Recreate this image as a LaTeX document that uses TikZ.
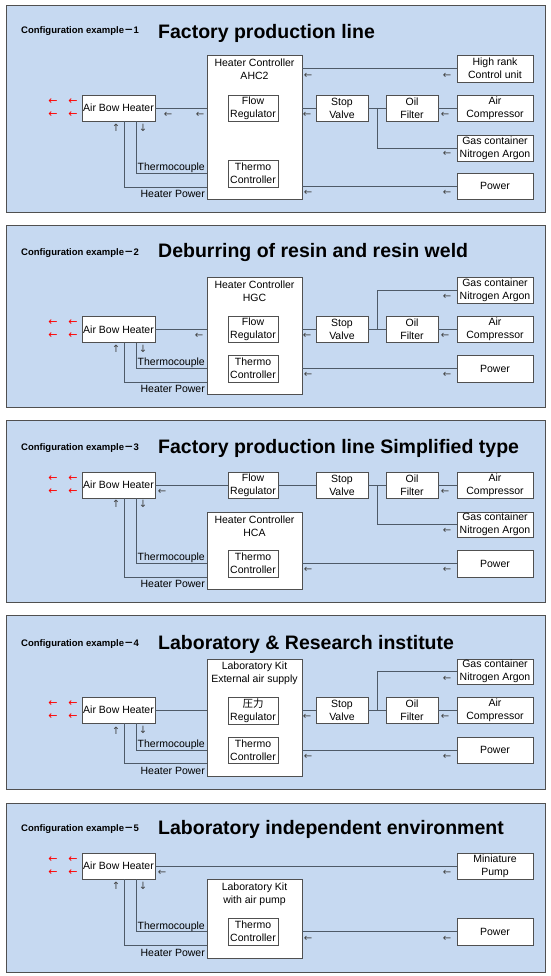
\documentclass[tikz,border=0pt]{standalone}
\usepackage{fontspec}
\setmainfont{Liberation Sans}
\newfontfamily\cjk{Noto Sans CJK JP}
\newfontfamily\arrfont{DejaVu Sans}
\definecolor{panelfill}{HTML}{C6D9F1}
\definecolor{panelline}{HTML}{505050}
\definecolor{boxline}{HTML}{505050}
\definecolor{connline}{HTML}{4E5A68}
\definecolor{arrgray}{HTML}{404040}
\tikzset{
  panelbox/.style={draw=panelline, fill=panelfill, line width=0.9pt},
  box/.style={draw=boxline, fill=white, line width=0.8pt, inner sep=0pt, align=center,
    font=\fontsize{10.5}{13}\selectfont},
  ctrlbox/.style={box},
  ctrltext/.style={inner sep=0pt, anchor=north, yshift=-2pt, align=center, font=\fontsize{10.5}{13}\selectfont},
  lbl/.style={inner sep=0pt, anchor=east, font=\fontsize{10.5}{13}\selectfont},
  cfg/.style={inner sep=0pt, anchor=west, font=\bfseries\fontsize{9.5}{11}\selectfont},
  ttl/.style={inner sep=0pt, anchor=west, font=\bfseries\fontsize{19.5}{22}\selectfont},
  garr/.style={inner sep=0pt, text=arrgray, font=\arrfont\fontsize{10}{10}\selectfont},
  rarr/.style={inner sep=0pt, text=red, font=\arrfont\fontsize{11}{11}\selectfont},
  conn/.style={draw=connline, line width=0.8pt},
}
\begin{document}
\begin{tikzpicture}[x=1pt,y=-1pt]
\useasboundingbox (0,0) rectangle (550,976);

% ================= Panel 1 =================
\path[panelbox] (6,5) rectangle (545,212);
\node[cfg] (cfg1) at (21,31) {Configuration example{\cjk －}1};
\node[ttl] (ttl1) at (158,33) {Factory production line};
\node[box, minimum width=73pt, minimum height=26pt] (heater1) at (118.5,108) {Air Bow Heater};
\node[ctrlbox, minimum width=95pt, minimum height=144pt] (ctrl1) at (254.5,127) {};
\node[ctrltext] (ctrlt1) at (254.5,57) {Heater Controller\\AHC2};
\node[box, minimum width=50pt, minimum height=26pt] (flow1) at (253,108) {Flow\\Regulator};
\node[box, minimum width=50pt, minimum height=27pt] (thermo1) at (253,173.5) {Thermo\\Controller};
\node[box, minimum width=76pt, minimum height=27pt] (hr1) at (495,68.5) {High rank\\Control unit};
\node[box, minimum width=52pt, minimum height=26pt] (sv1) at (342,108) {Stop\\Valve};
\node[box, minimum width=52pt, minimum height=26pt] (of1) at (412,108) {Oil\\Filter};
\node[box, minimum width=76pt, minimum height=26pt] (ac1) at (495,108) {Air\\Compressor};
\node[box, minimum width=76pt, minimum height=26pt] (gc1) at (495,148) {Gas container\\Nitrogen Argon};
\node[box, minimum width=76pt, minimum height=26pt] (pw1) at (495,186) {Power};
\coordinate (br1) at (377,108);
\draw[conn] (heater1.east) -- (heater1.east -| ctrl1.west);
\draw[conn] (hr1.west) -- (hr1.west -| ctrl1.east);
\draw[conn] (sv1.west -| ctrl1.east) -- (sv1.west);
\draw[conn] (sv1.east) -- (of1.west);
\draw[conn] (of1.east) -- (ac1.west);
\draw[conn] (br1) |- (gc1.west);
\draw[conn] (pw1.west) -- (pw1.west -| ctrl1.east);
\draw[conn] ([xshift=17.5pt]heater1.south) |- (thermo1.west -| ctrl1.west);
\draw[conn] ([xshift=5.5pt]heater1.south) |- (thermo1.south -| ctrl1.west);
\node[lbl] (tc1) at (205,168) {Thermocouple};
\node[lbl] (hp1) at (205,194) {Heater Power};
\node[rarr] (r1a) at (53,102) {←};
\node[rarr] (r1b) at (73,102) {←};
\node[rarr] (r1c) at (53,115) {←};
\node[rarr] (r1d) at (73,115) {←};
\node[garr] (a1a) at (168,115) {←};
\node[garr] (a1b) at (200,115) {←};
\node[garr] (a1c) at (308,76) {←};
\node[garr] (a1d) at (447,76) {←};
\node[garr] (a1e) at (307,115) {←};
\node[garr] (a1f) at (445,115) {←};
\node[garr] (a1g) at (447,154) {←};
\node[garr] (a1h) at (308,193) {←};
\node[garr] (a1i) at (447,193) {←};
\node[garr] (u1) at (116,128) {↑};
\node[garr] (d1) at (143,128) {↓};

% ================= Panel 2 =================
\path[panelbox] (6,225) rectangle (545,407);
\node[cfg] (cfg2) at (21,253) {Configuration example{\cjk －}2};
\node[ttl] (ttl2) at (158,253) {Deburring of resin and resin weld};
\node[box, minimum width=73pt, minimum height=26pt] (heater2) at (118.5,329.5) {Air Bow Heater};
\node[ctrlbox, minimum width=95pt, minimum height=117pt] (ctrl2) at (254.5,335.5) {};
\node[ctrltext] (ctrlt2) at (254.5,279) {Heater Controller\\HGC};
\node[box, minimum width=50pt, minimum height=26pt] (flow2) at (253,329) {Flow\\Regulator};
\node[box, minimum width=50pt, minimum height=27pt] (thermo2) at (253,368.5) {Thermo\\Controller};
\node[box, minimum width=76pt, minimum height=26pt] (gc2) at (495,290) {Gas container\\Nitrogen Argon};
\node[box, minimum width=52pt, minimum height=26pt] (sv2) at (342,329.5) {Stop\\Valve};
\node[box, minimum width=52pt, minimum height=26pt] (of2) at (412,329.5) {Oil\\Filter};
\node[box, minimum width=76pt, minimum height=26pt] (ac2) at (495,329.5) {Air\\Compressor};
\node[box, minimum width=76pt, minimum height=27pt] (pw2) at (495,368.5) {Power};
\coordinate (br2) at (377,329.5);
\draw[conn] (heater2.east) -- (heater2.east -| ctrl2.west);
\draw[conn] (sv2.west -| ctrl2.east) -- (sv2.west);
\draw[conn] (sv2.east) -- (of2.west);
\draw[conn] (of2.east) -- (ac2.west);
\draw[conn] (br2) |- (gc2.west);
\draw[conn] (pw2.west) -- (pw2.west -| ctrl2.east);
\draw[conn] ([xshift=17.5pt]heater2.south) |- (thermo2.west -| ctrl2.west);
\draw[conn] ([xshift=5.5pt]heater2.south) |- (thermo2.south -| ctrl2.west);
\node[lbl] (tc2) at (205,363) {Thermocouple};
\node[lbl] (hp2) at (205,389) {Heater Power};
\node[rarr] (r2a) at (53,323) {←};
\node[rarr] (r2b) at (73,323) {←};
\node[rarr] (r2c) at (53,336) {←};
\node[rarr] (r2d) at (73,336) {←};
\node[garr] (a2a) at (199,336) {←};
\node[garr] (a2b) at (307,336) {←};
\node[garr] (a2c) at (445,336) {←};
\node[garr] (a2d) at (447,297) {←};
\node[garr] (a2e) at (308,375) {←};
\node[garr] (a2f) at (447,375) {←};
\node[garr] (u2) at (116,349) {↑};
\node[garr] (d2) at (143,349) {↓};

% ================= Panel 3 =================
\path[panelbox] (6,420) rectangle (545,602);
\node[cfg] (cfg3) at (21,448) {Configuration example{\cjk －}3};
\node[ttl] (ttl3) at (158,448) {Factory production line Simplified type};
\node[box, minimum width=73pt, minimum height=26pt] (heater3) at (118.5,485) {Air Bow Heater};
\node[box, minimum width=50pt, minimum height=26pt] (flow3) at (253,485) {Flow\\Regulator};
\node[box, minimum width=52pt, minimum height=26pt] (sv3) at (342,485) {Stop\\Valve};
\node[box, minimum width=52pt, minimum height=26pt] (of3) at (412,485) {Oil\\Filter};
\node[box, minimum width=76pt, minimum height=26pt] (ac3) at (495,485) {Air\\Compressor};
\node[box, minimum width=76pt, minimum height=25pt] (gc3) at (495,524.5) {Gas container\\Nitrogen Argon};
\node[ctrlbox, minimum width=95pt, minimum height=77pt] (ctrl3) at (254.5,550.5) {};
\node[ctrltext] (ctrlt3) at (254.5,514) {Heater Controller\\HCA};
\node[box, minimum width=50pt, minimum height=27pt] (thermo3) at (253,563.5) {Thermo\\Controller};
\node[box, minimum width=76pt, minimum height=27pt] (pw3) at (495,563.5) {Power};
\coordinate (br3) at (377,485);
\draw[conn] (heater3.east) -- (flow3.west);
\draw[conn] (flow3.east) -- (sv3.west);
\draw[conn] (sv3.east) -- (of3.west);
\draw[conn] (of3.east) -- (ac3.west);
\draw[conn] (br3) |- (gc3.west);
\draw[conn] (pw3.west) -- (pw3.west -| ctrl3.east);
\draw[conn] ([xshift=17.5pt]heater3.south) |- (thermo3.west -| ctrl3.west);
\draw[conn] ([xshift=5.5pt]heater3.south) |- (thermo3.south -| ctrl3.west);
\node[lbl] (tc3) at (205,558) {Thermocouple};
\node[lbl] (hp3) at (205,584) {Heater Power};
\node[rarr] (r3a) at (53,479) {←};
\node[rarr] (r3b) at (73,479) {←};
\node[rarr] (r3c) at (53,492) {←};
\node[rarr] (r3d) at (73,492) {←};
\node[garr] (a3a) at (162,492) {←};
\node[garr] (a3b) at (445,492) {←};
\node[garr] (a3c) at (447,531) {←};
\node[garr] (a3d) at (308,570) {←};
\node[garr] (a3e) at (447,570) {←};
\node[garr] (u3) at (116,504) {↑};
\node[garr] (d3) at (143,504) {↓};

% ================= Panel 4 =================
\path[panelbox] (6,615) rectangle (545,789);
\node[cfg] (cfg4) at (21,644) {Configuration example{\cjk －}4};
\node[ttl] (ttl4) at (158,644) {Laboratory \& Research institute};
\node[box, minimum width=73pt, minimum height=26pt] (heater4) at (118.5,710) {Air Bow Heater};
\node[ctrlbox, minimum width=95pt, minimum height=117pt] (ctrl4) at (254.5,717.5) {};
\node[ctrltext] (ctrlt4) at (254.5,660) {Laboratory Kit\\External air supply};
\node[box, minimum width=50pt, minimum height=27pt] (reg4) at (253,710.5) {{\cjk 圧力}\\Regulator};
\node[box, minimum width=50pt, minimum height=26pt] (thermo4) at (253,750) {Thermo\\Controller};
\node[box, minimum width=76pt, minimum height=25pt] (gc4) at (495,671.5) {Gas container\\Nitrogen Argon};
\node[box, minimum width=52pt, minimum height=26pt] (sv4) at (342,710) {Stop\\Valve};
\node[box, minimum width=52pt, minimum height=26pt] (of4) at (412,710) {Oil\\Filter};
\node[box, minimum width=76pt, minimum height=26pt] (ac4) at (495,710) {Air\\Compressor};
\node[box, minimum width=76pt, minimum height=26pt] (pw4) at (495,750) {Power};
\coordinate (br4) at (377,710);
\draw[conn] (heater4.east) -- (heater4.east -| ctrl4.west);
\draw[conn] (sv4.west -| ctrl4.east) -- (sv4.west);
\draw[conn] (sv4.east) -- (of4.west);
\draw[conn] (of4.east) -- (ac4.west);
\draw[conn] (br4) |- (gc4.west);
\draw[conn] (pw4.west) -- (pw4.west -| ctrl4.east);
\draw[conn] ([xshift=17.5pt]heater4.south) |- (thermo4.west -| ctrl4.west);
\draw[conn] ([xshift=5.5pt]heater4.south) |- (thermo4.south -| ctrl4.west);
\node[lbl] (tc4) at (205,745) {Thermocouple};
\node[lbl] (hp4) at (205,771) {Heater Power};
\node[rarr] (r4a) at (53,704) {←};
\node[rarr] (r4b) at (73,704) {←};
\node[rarr] (r4c) at (53,717) {←};
\node[rarr] (r4d) at (73,717) {←};
\node[garr] (a4a) at (307,717) {←};
\node[garr] (a4b) at (445,717) {←};
\node[garr] (a4c) at (447,679) {←};
\node[garr] (a4d) at (308,757) {←};
\node[garr] (a4e) at (447,757) {←};
\node[garr] (u4) at (116,731) {↑};
\node[garr] (d4) at (143,730) {↓};

% ================= Panel 5 =================
\path[panelbox] (6,803) rectangle (545,972);
\node[cfg] (cfg5) at (21,829) {Configuration example{\cjk －}5};
\node[ttl] (ttl5) at (158,829) {Laboratory independent environment};
\node[box, minimum width=73pt, minimum height=26pt] (heater5) at (118.5,866) {Air Bow Heater};
\node[box, minimum width=76pt, minimum height=26pt] (mp5) at (495,866) {Miniature\\Pump};
\node[ctrlbox, minimum width=95pt, minimum height=79pt] (ctrl5) at (254.5,918.5) {};
\node[ctrltext] (ctrlt5) at (254.5,881) {Laboratory Kit\\with air pump};
\node[box, minimum width=50pt, minimum height=27pt] (thermo5) at (253,931.5) {Thermo\\Controller};
\node[box, minimum width=76pt, minimum height=27pt] (pw5) at (495,931.5) {Power};
\draw[conn] (heater5.east) -- (mp5.west);
\draw[conn] (pw5.west) -- (pw5.west -| ctrl5.east);
\draw[conn] ([xshift=17.5pt]heater5.south) |- (thermo5.west -| ctrl5.west);
\draw[conn] ([xshift=5.5pt]heater5.south) |- (thermo5.south -| ctrl5.west);
\node[lbl] (tc5) at (205,927) {Thermocouple};
\node[lbl] (hp5) at (205,953) {Heater Power};
\node[rarr] (r5a) at (53,860) {←};
\node[rarr] (r5b) at (73,860) {←};
\node[rarr] (r5c) at (53,873) {←};
\node[rarr] (r5d) at (73,873) {←};
\node[garr] (a5a) at (162,873) {←};
\node[garr] (a5b) at (447,873) {←};
\node[garr] (a5c) at (308,939) {←};
\node[garr] (a5d) at (447,939) {←};
\node[garr] (u5) at (116,886) {↑};
\node[garr] (d5) at (143,886) {↓};
\end{tikzpicture}
\end{document}
